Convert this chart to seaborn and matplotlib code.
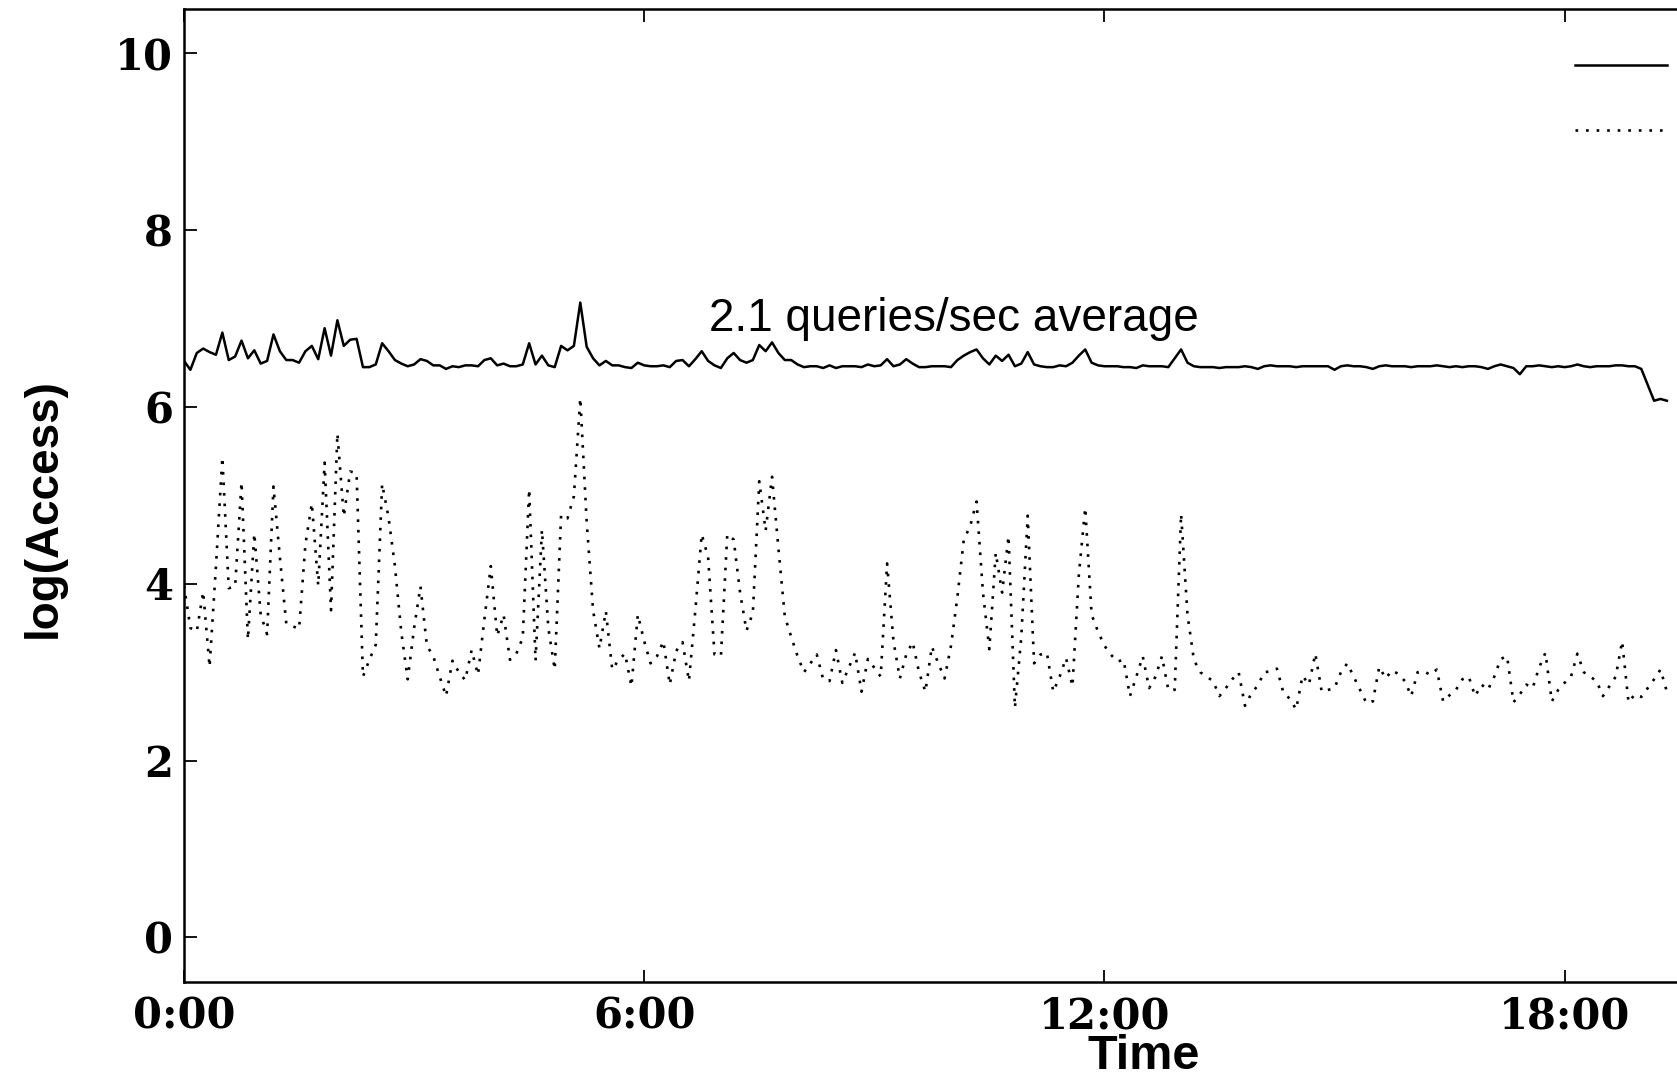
import numpy as np
import pandas as pd
import matplotlib
matplotlib.use("Agg")
import matplotlib.pyplot as plt
import seaborn as sns

# ---- data (5-minute samples, hours since 0:00) ----
step_minutes = 5
total_log = [
    6.52, 6.42, 6.61, 6.66, 6.62, 6.59, 6.84, 6.53, 6.57, 6.75,
    6.55, 6.64, 6.49, 6.52, 6.82, 6.63, 6.53, 6.53, 6.50, 6.63,
    6.69, 6.54, 6.89, 6.58, 6.98, 6.69, 6.76, 6.77, 6.45, 6.45,
    6.48, 6.72, 6.63, 6.53,
    6.49, 6.46, 6.48, 6.54, 6.52, 6.47, 6.47, 6.43, 6.46, 6.45,
    6.47, 6.47, 6.46, 6.53, 6.55, 6.47, 6.49, 6.46, 6.46, 6.48,
    6.72, 6.48, 6.58, 6.47, 6.45, 6.69, 6.64, 6.69, 7.18, 6.68,
    6.55, 6.47, 6.52, 6.47,
    6.47, 6.45, 6.44, 6.50, 6.47, 6.46, 6.46, 6.47, 6.45, 6.52,
    6.53, 6.46, 6.54, 6.63, 6.52, 6.47, 6.44, 6.55, 6.61, 6.53,
    6.50, 6.53, 6.70, 6.63, 6.73, 6.61, 6.53, 6.53, 6.48, 6.45,
    6.46, 6.46, 6.44,
    6.47, 6.44, 6.46, 6.46, 6.46, 6.45, 6.48, 6.46, 6.47, 6.54,
    6.46, 6.48, 6.54, 6.49, 6.45, 6.45, 6.46, 6.46, 6.46, 6.45,
    6.53, 6.58, 6.62, 6.65, 6.55, 6.48, 6.58, 6.52, 6.59, 6.46,
    6.49, 6.62, 6.48,
    6.46, 6.45, 6.45, 6.47, 6.46, 6.50, 6.58, 6.65, 6.50, 6.47,
    6.46, 6.46, 6.46, 6.45, 6.45, 6.44, 6.47, 6.46, 6.46, 6.46,
    6.45, 6.55, 6.65, 6.50, 6.46, 6.45, 6.45, 6.45, 6.44, 6.45,
    6.45, 6.45, 6.46, 6.45,
    6.43, 6.46, 6.47, 6.46, 6.46, 6.46, 6.45, 6.46, 6.46, 6.46,
    6.46, 6.46, 6.42, 6.46, 6.47, 6.46, 6.46, 6.45, 6.43, 6.46,
    6.47, 6.46, 6.46, 6.46, 6.45, 6.46, 6.46, 6.46, 6.47, 6.46,
    6.45, 6.46,
    6.45, 6.46, 6.46, 6.45, 6.43, 6.46, 6.48, 6.46, 6.44, 6.37,
    6.46, 6.46, 6.47, 6.46, 6.45, 6.46, 6.45, 6.46, 6.48, 6.46,
    6.45, 6.46, 6.46, 6.46, 6.47, 6.47, 6.46, 6.46, 6.43, 6.25,
    6.07, 6.09, 6.07,
]
single_log = [
    3.98, 3.50, 3.46, 3.91, 3.06, 4.20, 5.43, 3.95, 3.97, 5.15,
    3.37, 4.57, 3.65, 3.43, 5.10, 4.30, 3.55, 3.52, 3.49, 4.45,
    4.91, 3.98, 5.37, 3.70, 5.70, 4.76, 5.27, 5.25, 2.95, 3.14,
    3.31, 5.13, 4.75, 4.20, 3.45,
    2.92, 3.50, 3.97, 3.30, 3.18, 2.95, 2.73, 3.13, 3.00, 2.91,
    3.25, 2.97, 3.60, 4.20, 3.41, 3.65, 3.14, 3.21, 3.39, 5.07,
    3.13, 4.61, 3.50, 3.03, 4.78, 4.74, 4.99, 6.10, 4.70, 3.70,
    3.27, 3.69, 3.03,
    3.14, 3.21, 2.84, 3.65, 3.35, 3.10, 3.18, 3.35, 2.86, 3.24,
    3.34, 2.90, 3.70, 4.56, 4.30, 3.20, 3.18, 4.56, 4.50, 3.90,
    3.47, 3.67, 5.16, 4.60, 5.21, 4.40, 3.63, 3.40, 3.18, 3.00,
    3.10, 3.20, 2.92,
    2.90, 3.25, 2.88, 3.05, 3.22, 2.78, 3.15, 3.05, 2.95, 4.23,
    3.35, 2.93, 3.20, 3.34, 3.00, 2.78, 3.29, 3.10, 2.93, 3.30,
    3.85, 4.50, 4.65, 4.93, 3.90, 3.26, 4.35, 3.90, 4.54, 2.60,
    3.40, 4.77, 3.10,
    3.20, 3.22, 2.78, 2.95, 3.16, 2.84, 4.10, 4.86, 3.65, 3.46,
    3.30, 3.20, 3.12, 3.14, 2.73, 2.95, 3.18, 2.82, 2.95, 3.18,
    2.80, 2.80, 4.79, 3.65, 3.14, 3.00, 2.95, 2.90, 2.73, 2.82,
    2.92, 3.00, 2.62,
    2.76, 2.85, 3.00, 3.01, 3.04, 2.77, 2.70, 2.58, 2.96, 2.86,
    3.21, 2.78, 2.80, 2.82, 3.00, 3.10, 2.95, 2.80, 2.65, 2.67,
    3.06, 2.93, 3.02, 2.98, 2.90, 2.73, 3.00, 3.01, 2.97, 3.03,
    2.67, 2.74, 2.80,
    2.92, 2.95, 2.73, 2.86, 2.80, 2.95, 3.15, 3.18, 2.66, 2.75,
    2.86, 2.82, 3.05, 3.22, 2.67, 2.80, 2.88, 2.95, 3.21, 3.00,
    2.95, 2.90, 2.73, 2.84, 2.95, 3.35, 2.66, 2.75, 2.72, 2.82,
    2.92, 3.03, 2.78,
]
xtick_hours = [0, 6, 12, 18]
xtick_labels = ["0:00", "6:00", "12:00", "18:00"]
ytick_values = [0, 2, 4, 6, 8, 10]
annotation_text = "2.1 queries/sec average"

hours = np.arange(len(total_log)) * step_minutes / 60.0
df = pd.DataFrame({"hours": hours, "total": total_log, "single": single_log})

# ---- figure ----
W, H = 1677, 1081
fig = plt.figure(figsize=(W / 100, H / 100), dpi=100)
ax_left, ax_right, ax_top, ax_bottom = 184, 1677, 9, 981.7
ax = fig.add_axes([ax_left / W, 1 - ax_bottom / H,
                   (ax_right - ax_left) / W, (ax_bottom - ax_top) / H])

sns.lineplot(data=df, x="hours", y="total", ax=ax, color="black",
             linewidth=1.8, linestyle="-", label="total")
sns.lineplot(data=df, x="hours", y="single", ax=ax, color="black",
             linewidth=1.9, linestyle=(0, (1, 3.0)), label="single")

px_per_hour = 76.7
ax.set_xlim(0, (ax_right - ax_left) / px_per_hour)
ax.set_ylim(-0.5, 10.5)

ax.set_xticks(xtick_hours)
ax.set_xticklabels(xtick_labels)
ax.set_yticks(ytick_values)
ax.set_yticklabels([str(v) for v in ytick_values])

for lab in ax.get_xticklabels() + ax.get_yticklabels():
    lab.set_fontfamily("DejaVu Serif")
    lab.set_fontweight("bold")
    lab.set_fontsize(30)

ax.tick_params(axis="both", direction="in", length=9, width=1.3,
               top=True, right=False, pad=8)
ax.tick_params(axis="x", pad=10)

for side in ["left", "bottom", "top"]:
    ax.spines[side].set_linewidth(1.8)
ax.spines["right"].set_visible(False)

ax.set_xlabel("Time", fontfamily="Liberation Sans", fontweight="bold",
              fontsize=35)
ax.xaxis.set_label_coords(0.643, (ax_bottom - 1069) / (ax_bottom - ax_top))
ax.xaxis.label.set_va("baseline")
ax.set_ylabel("log(Access)", fontfamily="Liberation Sans",
              fontweight="bold", fontsize=33)
ax.yaxis.set_label_coords(-0.079, 0.487)

ax.text(6.84, 6.86, annotation_text, fontfamily="Liberation Sans",
        fontsize=33, ha="left", va="baseline")

handles = ax.get_lines()[:2]
ax.legend(handles, [" ", " "], loc="upper left", frameon=False,
          bbox_to_anchor=(1575 / W, 1 - 53 / H),
          bbox_transform=fig.transFigure, borderpad=0, borderaxespad=0,
          handletextpad=0, handlelength=3.3, fontsize=20,
          labelspacing=1.33)

fig.savefig("out.png", dpi=100)
